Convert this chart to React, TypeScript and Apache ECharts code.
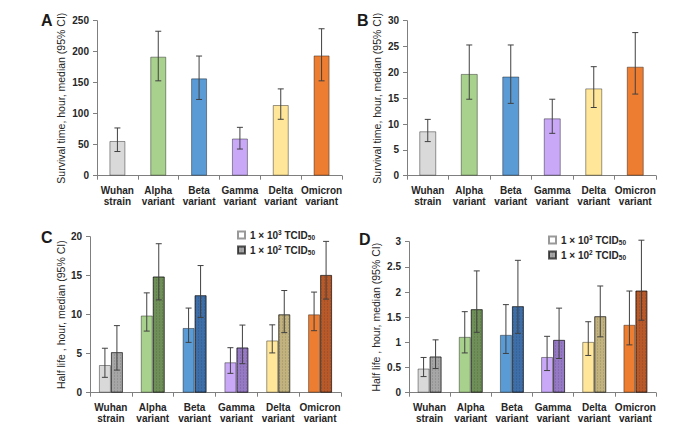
import React, { useEffect, useRef } from "react";
import * as echarts from "echarts";

const categories = ["Wuhan\nstrain", "Alpha\nvariant", "Beta\nvariant", "Gamma\nvariant", "Delta\nvariant", "Omicron\nvariant"];

// Panel A: survival time (hours), median and 95% CI
const survA = [56, 192, 157, 60, 114, 194];
const survALo = [39, 153, 123, 43, 91, 153];
const survAHi = [77, 233, 193, 78, 140, 237];

// Panel B: survival time (hours), median and 95% CI
const survB = [8.6, 19.7, 19.2, 11.1, 16.9, 21.1];
const survBLo = [6.6, 14.8, 14.0, 8.2, 13.2, 15.8];
const survBHi = [10.9, 25.3, 25.3, 14.8, 21.1, 27.7];

// Panel C: half life (hours), 1e3 and 1e2 TCID50
const halfC3 = [3.55, 9.9, 8.3, 3.9, 6.7, 10.05];
const halfC3Lo = [1.97, 7.9, 6.45, 2.48, 5.1, 7.95];
const halfC3Hi = [5.7, 12.8, 10.85, 5.77, 8.7, 12.9];
const halfC2 = [5.2, 14.9, 12.5, 5.8, 10.05, 15.1];
const halfC2Lo = [2.9, 11.9, 9.65, 3.72, 7.7, 12.0];
const halfC2Hi = [8.6, 19.1, 16.3, 8.67, 13.1, 19.4];

// Panel D: half life (hours), 1e3 and 1e2 TCID50
const halfD3 = [0.48, 1.11, 1.15, 0.71, 1.01, 1.35];
const halfD3Lo = [0.32, 0.79, 0.78, 0.44, 0.74, 0.95];
const halfD3Hi = [0.7, 1.61, 1.75, 1.12, 1.41, 2.02];
const halfD2 = [0.72, 1.66, 1.72, 1.05, 1.52, 2.03];
const halfD2Lo = [0.48, 1.2, 1.18, 0.68, 1.11, 1.44];
const halfD2Hi = [1.05, 2.42, 2.63, 1.68, 2.12, 3.03];

const lightColors = ["#d9d9d9", "#a9d18e", "#5b9bd5", "#c9a9f7", "#ffe699", "#ed7d31"];
const darkColors = ["#a6a6a6", "#6f8f58", "#3d6ea8", "#9679c4", "#c2b27e", "#b8592a"];

const FONT = "'Liberation Sans', Arial, sans-serif";
const AXIS_COLOR = "#7f7f7f";
const ERR_COLOR = "#404040";

const decal = {
  symbol: "rect",
  symbolSize: 1,
  dashArrayX: [1, 2],
  dashArrayY: [2, 1],
  rotation: 0,
  color: "rgba(0,0,0,0.1)",
};

function errRender(offset: number) {
  return (params: any, api: any) => {
    const c = api.value(0);
    const lo = api.coord([c, api.value(1)]);
    const hi = api.coord([c, api.value(2)]);
    const x = lo[0] + offset;
    const w = 3;
    const style = { stroke: ERR_COLOR, lineWidth: 1 };
    return {
      type: "group",
      children: [
        { type: "line", shape: { x1: x, y1: lo[1], x2: x, y2: hi[1] }, style },
        { type: "line", shape: { x1: x - w, y1: hi[1], x2: x + w, y2: hi[1] }, style },
        { type: "line", shape: { x1: x - w, y1: lo[1], x2: x + w, y2: lo[1] }, style },
      ],
    };
  };
}

function errSeries(idx: number, lo: number[], hi: number[], offset: number) {
  return {
    type: "custom",
    xAxisIndex: idx,
    yAxisIndex: idx,
    z: 10,
    silent: true,
    renderItem: errRender(offset),
    encode: { x: 0, y: [1, 2] },
    data: categories.map((_, i) => [i, lo[i], hi[i]]),
  };
}

function barData(vals: number[], colors: string[], hatched: boolean) {
  return vals.map((v, i) => ({
    value: v,
    itemStyle: { color: colors[i], decal: hatched ? decal : undefined },
  }));
}

function xAxisFor(idx: number) {
  return {
    type: "category",
    gridIndex: idx,
    data: categories,
    axisLine: { lineStyle: { color: AXIS_COLOR, width: 1 } },
    axisTick: { show: true, alignWithLabel: false, length: 4, lineStyle: { color: AXIS_COLOR } },
    axisLabel: {
      interval: 0,
      margin: 9,
      color: "#262626",
      fontFamily: FONT,
      fontWeight: "bold",
      fontSize: 10,
      lineHeight: 11,
    },
  };
}

function yAxisFor(idx: number, max: number, interval: number, name: string, gap: number) {
  return {
    type: "value",
    gridIndex: idx,
    min: 0,
    max,
    interval,
    name,
    nameLocation: "middle",
    nameRotate: 90,
    nameGap: gap,
    nameTextStyle: { fontFamily: FONT, fontSize: 10.5, color: "#262626" },
    splitLine: { show: false },
    axisLine: { show: true, lineStyle: { color: AXIS_COLOR, width: 1 } },
    axisTick: { show: true, length: 4, lineStyle: { color: AXIS_COLOR } },
    axisLabel: { margin: 8, color: "#262626", fontFamily: FONT, fontWeight: "bold", fontSize: 10 },
  };
}

const legendText = (name: string) =>
  name === "low" ? "1 × 10{sup|3} TCID{sub|50}" : "1 × 10{sup|2} TCID{sub|50}";

function legendFor(left: number, top: number) {
  return {
    orient: "vertical",
    left,
    top,
    padding: 0,
    selectedMode: false,
    itemWidth: 7,
    itemHeight: 7,
    itemGap: 3,
    icon: "rect",
    data: ["low", "high"],
    formatter: legendText,
    textStyle: {
      fontFamily: FONT,
      fontWeight: "bold",
      fontSize: 10,
      color: "#262626",
      rich: {
        sup: { fontFamily: FONT, fontWeight: "bold", fontSize: 6.5, color: "#262626", verticalAlign: "top", lineHeight: 12 },
        sub: { fontFamily: FONT, fontWeight: "bold", fontSize: 6.5, color: "#262626", verticalAlign: "bottom", lineHeight: 8 },
      },
    },
  };
}

const App: React.FC = () => {
  const ref = useRef<HTMLDivElement>(null);

  useEffect(() => {
    if (!ref.current) return;
    const chart = echarts.init(ref.current, undefined, { renderer: "svg" });
    const letter = (t: string, x: number, y: number) => ({
      type: "text",
      left: x,
      top: y,
      style: { text: t, fontFamily: FONT, fontWeight: "bold", fontSize: 16, fill: "#1a1a1a" },
    });
    const option: any = {
      animation: false,
      backgroundColor: "#ffffff",
      grid: [
        { left: 97, top: 20.7, width: 245, height: 155, containLabel: false, outerBoundsMode: "none" },
        { left: 407, top: 20.7, width: 249, height: 155, containLabel: false, outerBoundsMode: "none" },
        { left: 90, top: 236.7, width: 251, height: 156, containLabel: false, outerBoundsMode: "none" },
        { left: 409, top: 241.7, width: 247, height: 151, containLabel: false, outerBoundsMode: "none" },
      ],
      xAxis: [xAxisFor(0), xAxisFor(1), xAxisFor(2), xAxisFor(3)],
      yAxis: [
        yAxisFor(0, 250, 50, "Survival time, hour, median (95% CI)", 31),
        yAxisFor(1, 30, 5, "Survival time, hour, median (95% CI)", 25),
        yAxisFor(2, 20, 5, "Half life , hour, median (95% CI)", 24),
        yAxisFor(3, 3, 0.5, "Half life , hour, median (95% CI)", 28),
      ],
      legend: [legendFor(237, 229), legendFor(548, 234)],
      graphic: [letter("A", 41, 12), letter("B", 357, 12), letter("C", 41, 229), letter("D", 359, 231)],
      series: [
        {
          type: "bar",
          name: "A",
          xAxisIndex: 0,
          yAxisIndex: 0,
          barWidth: 16,
          itemStyle: { borderColor: "rgba(0,0,0,0.4)", borderWidth: 1 },
          data: barData(survA, lightColors, false),
        },
        errSeries(0, survALo, survAHi, 0),
        {
          type: "bar",
          name: "B",
          xAxisIndex: 1,
          yAxisIndex: 1,
          barWidth: 17,
          itemStyle: { borderColor: "rgba(0,0,0,0.4)", borderWidth: 1 },
          data: barData(survB, lightColors, false),
        },
        errSeries(1, survBLo, survBHi, 0),
        {
          type: "bar",
          name: "low",
          xAxisIndex: 2,
          yAxisIndex: 2,
          barWidth: 12,
          barGap: "0%",
          itemStyle: { color: "#ffffff", borderColor: "rgba(0,0,0,0.4)", borderWidth: 1 },
          data: barData(halfC3, lightColors, false),
        },
        {
          type: "bar",
          name: "high",
          xAxisIndex: 2,
          yAxisIndex: 2,
          barWidth: 12,
          barGap: "0%",
          itemStyle: { color: "#a6a6a6", decal, borderColor: "rgba(0,0,0,0.4)", borderWidth: 1 },
          data: barData(halfC2, darkColors, true),
        },
        errSeries(2, halfC3Lo, halfC3Hi, -6),
        errSeries(2, halfC2Lo, halfC2Hi, 6),
        {
          type: "bar",
          name: "low",
          xAxisIndex: 3,
          yAxisIndex: 3,
          barWidth: 12,
          barGap: "0%",
          itemStyle: { color: "#ffffff", borderColor: "rgba(0,0,0,0.4)", borderWidth: 1 },
          data: barData(halfD3, lightColors, false),
        },
        {
          type: "bar",
          name: "high",
          xAxisIndex: 3,
          yAxisIndex: 3,
          barWidth: 12,
          barGap: "0%",
          itemStyle: { color: "#a6a6a6", decal, borderColor: "rgba(0,0,0,0.4)", borderWidth: 1 },
          data: barData(halfD2, darkColors, true),
        },
        errSeries(3, halfD3Lo, halfD3Hi, -6),
        errSeries(3, halfD2Lo, halfD2Hi, 6),
      ],
    };
    chart.setOption(option);
    return () => chart.dispose();
  }, []);

  return <div ref={ref} style={{ position: "absolute", left: 0, top: 0, width: 700, height: 438 }} />;
};

export default App;
